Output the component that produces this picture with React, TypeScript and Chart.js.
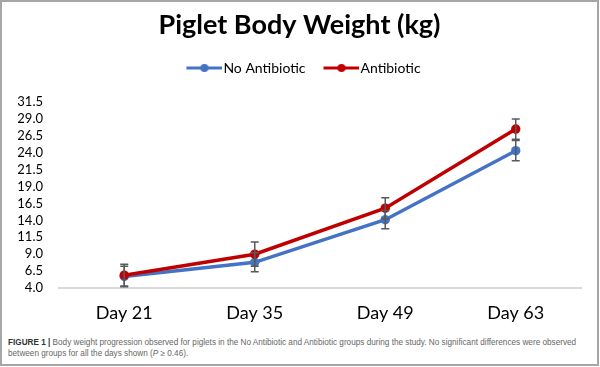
import React, { useEffect, useRef } from "react";
import { Chart, registerables } from "chart.js";
Chart.register(...registerables);

const days = ["Day 21", "Day 35", "Day 49", "Day 63"];
const noAntibiotic = [5.7, 7.8, 14.1, 24.3];
const antibiotic = [5.9, 9.0, 15.8, 27.5];
const noAntibioticErr = [1.5, 1.4, 1.35, 1.5];
const antibioticErr = [1.6, 1.8, 1.55, 1.5];
const yTickValues = [4.0, 6.5, 9.0, 11.5, 14.0, 16.5, 19.0, 21.5, 24.0, 26.5, 29.0, 31.5];
const seriesNames = ["No Antibiotic", "Antibiotic"];

const BLUE = "#4472C4";
const RED = "#C00000";
const FONT = "Lato";

function legendIcon(color: string) {
  const c = document.createElement("canvas");
  c.width = 50;
  c.height = 10;
  const ctx = c.getContext("2d")!;
  ctx.strokeStyle = color;
  ctx.lineWidth = 3;
  ctx.beginPath();
  ctx.moveTo(14, 5);
  ctx.lineTo(50, 5);
  ctx.stroke();
  ctx.fillStyle = color;
  ctx.beginPath();
  ctx.arc(32, 5, 4, 0, Math.PI * 2);
  ctx.fill();
  return c;
}

const errorBars = {
  id: "errorBars",
  afterDatasetsDraw(chart: any) {
    const ctx = chart.ctx;
    const y = chart.scales.y;
    chart.data.datasets.forEach((ds: any, di: number) => {
      const meta = chart.getDatasetMeta(di);
      const errs: number[] = ds.errors;
      meta.data.forEach((pt: any, i: number) => {
        const v = ds.data[i];
        const top = y.getPixelForValue(v + errs[i]);
        const bot = y.getPixelForValue(v - errs[i]);
        const x = pt.x;
        ctx.save();
        ctx.strokeStyle = "#595959";
        ctx.lineWidth = 1.5;
        ctx.beginPath();
        ctx.moveTo(x, top);
        ctx.lineTo(x, bot);
        ctx.moveTo(x - 4, top);
        ctx.lineTo(x + 4, top);
        ctx.moveTo(x - 4, bot);
        ctx.lineTo(x + 4, bot);
        ctx.stroke();
        ctx.restore();
      });
    });
  },
};

const fixLegend = {
  id: "fixLegend",
  beforeLayout(chart: any) {
    const lg = chart.legend;
    if (lg && !lg._patched) {
      const f = lg.fit.bind(lg);
      lg.fit = function () {
        f();
        this.height = 51;
        this.minSize = { width: this.width, height: 51 };
      };
      lg._patched = true;
    }
  },
};

function ChartView() {
  const ref = useRef<HTMLCanvasElement>(null);
  useEffect(() => {
    const icons = [legendIcon(BLUE), legendIcon(RED)];
    const chart = new Chart(ref.current!, {
      type: "line",
      data: {
        labels: days,
        datasets: [
          {
            label: seriesNames[0],
            data: noAntibiotic,
            errors: noAntibioticErr,
            borderColor: BLUE,
            backgroundColor: BLUE,
            borderWidth: 3.5,
            pointRadius: 4.7,
            pointBackgroundColor: BLUE,
            pointBorderWidth: 0,
            order: 1,
          } as any,
          {
            label: seriesNames[1],
            data: antibiotic,
            errors: antibioticErr,
            borderColor: RED,
            backgroundColor: RED,
            borderWidth: 3.5,
            pointRadius: 4.7,
            pointBackgroundColor: RED,
            pointBorderWidth: 0,
            order: 0,
          } as any,
        ],
      },
      options: {
        animation: false,
        responsive: false,
        maintainAspectRatio: false,
        layout: { padding: { left: 18, right: 19, top: 0, bottom: 0 } },
        plugins: {
          tooltip: { enabled: false },
          title: {
            display: true,
            text: "Piglet Body Weight (kg)",
            color: "#000",
            font: { family: FONT, size: 27, weight: "bold" },
            padding: { top: 9, bottom: 9.6 },
          },
          legend: {
            display: true,
            labels: {
              color: "#000",
              font: { family: FONT, size: 14 },
              usePointStyle: true,
              pointStyleWidth: 38,
              padding: 10,
              generateLabels: () =>
                seriesNames.map((n, i) => ({
                  text: n,
                  pointStyle: icons[i],
                  fillStyle: i ? RED : BLUE,
                  strokeStyle: i ? RED : BLUE,
                  lineWidth: 0,
                  hidden: false,
                  datasetIndex: i,
                  fontColor: "#000",
                })) as any,
            },
          },
        },
        scales: {
          x: {
            type: "category",
            offset: true,
            afterFit: (s: any) => {
              s.height = 45;
              s.paddingLeft = 0;
              s.paddingRight = 0;
            },
            grid: { display: false, drawTicks: false },
            border: { color: "#d9d9d9", width: 2 },
            ticks: { color: "#000", font: { family: FONT, size: 18 }, padding: 14 },
          },
          y: {
            min: 4,
            max: 31.5,
            afterBuildTicks: (s: any) => {
              s.ticks = yTickValues.map((v) => ({ value: v }));
            },
            afterFit: (s: any) => {
              s.width = 41;
            },
            grid: { display: false, drawTicks: false },
            border: { display: false },
            ticks: {
              autoSkip: false,
              color: "#000",
              font: { family: FONT, size: 13 },
              padding: 16,
              callback: (v: any) => Number(v).toFixed(1),
            },
          },
        },
      },
      plugins: [errorBars, fixLegend],
    });
    return () => chart.destroy();
  }, []);
  return <canvas ref={ref} width={600} height={333} style={{ display: "block" }} />;
}

export default function App() {
  return (
    <div
      style={{
        position: "absolute",
        left: 0,
        top: 0,
        width: 599,
        height: 366,
        border: "2px solid #a6a6a6",
        boxSizing: "border-box",
        background: "#fff",
        overflow: "hidden",
      }}
    >
      <div style={{ position: "absolute", left: -2, top: -2 }}>
        <ChartView />
      </div>
      <div
        style={{
          position: "absolute",
          left: 6,
          top: 336,
          fontFamily: "'Liberation Sans', Arial, sans-serif",
          fontSize: 8.2,
          lineHeight: "10.5px",
          color: "#666",
          whiteSpace: "nowrap",
        }}
      >
        <span style={{ fontWeight: "bold", color: "#333" }}>FIGURE 1 |</span> Body weight progression observed for piglets in the No Antibiotic and Antibiotic groups during the study. No significant differences were observed
        <br />
        between groups for all the days shown (<i>P</i> ≥ 0.46).
      </div>
    </div>
  );
}
